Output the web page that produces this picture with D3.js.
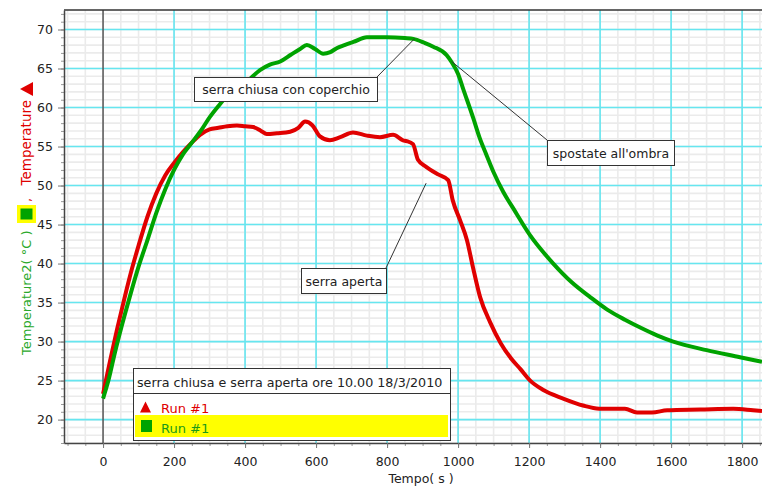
<!DOCTYPE html>
<html><head><meta charset="utf-8">
<script src="https://cdn.jsdelivr.net/npm/d3@7"></script>
<style>
body{margin:0;background:#fff;}
svg{display:block;font-family:"DejaVu Sans",sans-serif;}
</style></head><body>
<svg id="c" width="762" height="489"></svg>
<script>
// ---- data ----
const redTime = [0,20,40,60,80,100,125,150,175,200,225,250,273,300,325,350,377,400,423,445,461,490,527,550,569,590,611,639,668,704,743,780,817,845,855,873,887,910,945,972,985,1006,1025,1042,1062,1090,1120,1150,1175,1203,1240,1296,1352,1397,1470,1504,1546,1589,1682,1775,1831,1856];
const redTemp = [23.3,27.6,31.7,35.5,39.1,42.3,46,49,51.3,52.9,54.3,55.5,56.5,57.2,57.4,57.6,57.7,57.6,57.5,57,56.6,56.7,56.9,57.4,58.2,57.7,56.3,55.8,56.2,56.8,56.4,56.2,56.5,55.8,55.7,55.3,53.3,52.4,51.4,50.7,48.1,45.5,43,39.5,35.7,32.5,29.8,27.8,26.5,25,23.8,22.7,21.8,21.4,21.4,20.9,20.9,21.2,21.3,21.4,21.2,21.1];
const greenTime = [0,15,34,52,75,100,125,150,175,200,225,245,275,301,325,348,375,405,442,470,499,530,555,574,597,620,640,658,680,705,743,799,850,874,905,930,968,982,1000,1015,1043,1060,1081,1100,1127,1155,1203,1268,1320,1372,1420,1470,1513,1560,1606,1700,1794,1856];
const greenTemp = [22.7,25,28.7,31.9,35.7,39.6,43,46.5,49.5,52,54,55.2,57,58.8,60.2,61.4,62.3,63.3,64.8,65.5,65.9,66.8,67.5,68,67.5,66.9,67.1,67.6,68,68.4,69,69,68.9,68.8,68.3,67.8,66.7,65.8,64.3,62.3,58.6,56.2,53.8,51.7,49.2,47.1,43.6,40,37.6,35.7,34.1,32.8,31.8,30.8,30,28.9,28,27.4];
const xMajorTicks = [0,200,400,600,800,1000,1200,1400,1600,1800];
const yMajorTicks = [20,25,30,35,40,45,50,55,60,65,70];
const legendTitle = "serra chiusa e serra aperta ore 10.00 18/3/2010";
const seriesLabels = ["Run #1","Run #1"];
const annotations = [
  {text:"serra chiusa con coperchio", t:878, v:68.85},
  {text:"spostate all'ombra", t:982, v:65.9},
  {text:"serra aperta", t:910, v:50.3}
];

// ---- layout ----
const L=64, R=762, T=10, B=443;
const RED="#e00000", GREEN="#00a300";
const svg=d3.select("#c");
const x=d3.scaleLinear().domain([-110,1856]).range([L,R]);
const y=d3.scaleLinear().domain([17,72.5]).range([B,T]);
const xMinor=d3.range(-100,1851,50), yMinor=d3.range(17,73,1);

const g=svg.append("g");
g.selectAll(".vm").data(xMinor).join("line").attr("x1",d=>x(d)).attr("x2",d=>x(d)).attr("y1",T).attr("y2",B).attr("stroke","#ebebeb").attr("stroke-width",1.6);
g.selectAll(".hm").data(yMinor).join("line").attr("y1",d=>y(d)).attr("y2",d=>y(d)).attr("x1",L).attr("x2",R).attr("stroke","#ebebeb").attr("stroke-width",1.6);
g.selectAll(".vM").data(xMajorTicks.filter(d=>d!==0)).join("line").attr("x1",d=>x(d)).attr("x2",d=>x(d)).attr("y1",T).attr("y2",B).attr("stroke","#66e6f0").attr("stroke-width",1.6);
g.selectAll(".hM").data(yMajorTicks).join("line").attr("y1",d=>y(d)).attr("y2",d=>y(d)).attr("x1",L).attr("x2",R).attr("stroke","#66e6f0").attr("stroke-width",1.6);
g.append("line").attr("x1",x(0)).attr("x2",x(0)).attr("y1",T).attr("y2",B).attr("stroke","#555").attr("stroke-width",1.5);
g.append("line").attr("x1",L).attr("x2",R).attr("y1",T).attr("y2",T).attr("stroke","#333").attr("stroke-width",1.5);

// axes
const fmt=d3.format("d");
const xAxisMinor=svg.append("g").attr("transform",`translate(0,${B})`).call(d3.axisBottom(x).tickValues(xMinor).tickSize(3).tickFormat(""));
const xAxis=svg.append("g").attr("transform",`translate(0,${B})`).call(d3.axisBottom(x).tickValues(xMajorTicks).tickFormat(fmt).tickSize(5).tickSizeOuter(0).tickPadding(9));
const yAxisMinor=svg.append("g").attr("transform",`translate(${L},0)`).call(d3.axisLeft(y).tickValues(yMinor).tickSize(3).tickFormat(""));
const yAxis=svg.append("g").attr("transform",`translate(${L},0)`).call(d3.axisLeft(y).tickValues(yMajorTicks).tickFormat(fmt).tickSize(6).tickSizeOuter(0).tickPadding(5));
[xAxisMinor,yAxisMinor].forEach(a=>{a.select(".domain").remove();a.selectAll("line").attr("stroke","#999");});
[xAxis,yAxis].forEach(a=>{a.select(".domain").attr("stroke","#444").attr("stroke-width",1.5);a.selectAll("line").attr("stroke","#777");a.selectAll("text").attr("fill","#222").style("font-size","12.5px").style("font-family","DejaVu Sans");});

// lines
svg.append("clipPath").attr("id","pc").append("rect").attr("x",L).attr("y",T).attr("width",R-L).attr("height",B-T);
const line=d3.line().x(d=>x(d[0])).y(d=>y(d[1])).curve(d3.curveMonotoneX);
const redData=redTime.map((t,i)=>[t,redTemp[i]]);
const greenData=greenTime.map((t,i)=>[t,greenTemp[i]]);
const lg=svg.append("g").attr("clip-path","url(#pc)");
lg.append("path").datum(redData).attr("d",line).attr("fill","none").attr("stroke",RED).attr("stroke-width",4).attr("stroke-linejoin","round");
lg.append("path").datum(greenData).attr("d",line).attr("fill","none").attr("stroke",GREEN).attr("stroke-width",4).attr("stroke-linejoin","round");

// annotations
const boxes=[{x:194,y:77,w:183,h:24,lx:377,ly:77},{x:547,y:140,w:127,h:25,lx:547,ly:140},{x:301,y:268,w:85,h:25,lx:386,ly:268}];
annotations.forEach((a,i)=>{
  const b=boxes[i];
  svg.append("line").attr("x1",x(a.t)).attr("y1",y(a.v)).attr("x2",b.lx).attr("y2",b.ly).attr("stroke","#333").attr("stroke-width",1);
  svg.append("rect").attr("x",b.x+0.5).attr("y",b.y+0.5).attr("width",b.w).attr("height",b.h).attr("fill","#fff").attr("stroke","#333").attr("stroke-width",1);
  svg.append("text").attr("x",b.x+b.w/2+0.5).attr("y",b.y+b.h/2+5).attr("text-anchor","middle").style("font-size","12.5px").attr("fill","#222").text(a.text);
});

// legend
const lgd=svg.append("g");
lgd.append("rect").attr("x",133.5).attr("y",368.5).attr("width",317).attr("height",72).attr("fill","#fff").attr("stroke","#333");
lgd.append("line").attr("x1",133.5).attr("x2",450.5).attr("y1",393.5).attr("y2",393.5).attr("stroke","#333");
lgd.append("text").attr("x",137).attr("y",387).style("font-size","12.7px").attr("fill","#222").text(legendTitle);
lgd.append("path").attr("d","M140,412.5L145.5,401.5L151,412.5Z").attr("fill",RED);
lgd.append("text").attr("x",161).attr("y",413).style("font-size","13px").attr("fill",RED).text(seriesLabels[0]);
lgd.append("rect").attr("x",135).attr("y",415).attr("width",313).attr("height",22).attr("fill","#ffff00");
lgd.append("rect").attr("x",141).attr("y",420).attr("width",11).attr("height",12).attr("fill",GREEN);
lgd.append("text").attr("x",161).attr("y",433).style("font-size","13px").attr("fill","#1a9a1a").text(seriesLabels[1]);

// y axis title
const yt=svg.append("g").attr("transform","translate(31,0) rotate(-90)");
yt.append("text").attr("x",-355).attr("y",0).style("font-size","13px").attr("fill","#2aa82a").text("Temperature2( °C )");
yt.append("text").attr("x",-202).attr("y",0).style("font-size","13px").attr("fill",RED).text(",");
yt.append("text").attr("x",-100).attr("y",0).attr("text-anchor","end").style("font-size","13.5px").attr("fill",RED).text("Temperature");
svg.append("rect").attr("x",17).attr("y",205).attr("width",19).attr("height",18).attr("fill","#ffff00");
svg.append("rect").attr("x",20.5).attr("y",208.5).attr("width",12).attr("height",11).attr("fill",GREEN);
svg.append("path").attr("d","M20,89L33,82L33,96Z").attr("fill",RED);

// x axis title
svg.append("text").attr("x",421).attr("y",483).attr("text-anchor","middle").style("font-size","12.5px").attr("fill","#222").text("Tempo( s )");
</script></body></html>
